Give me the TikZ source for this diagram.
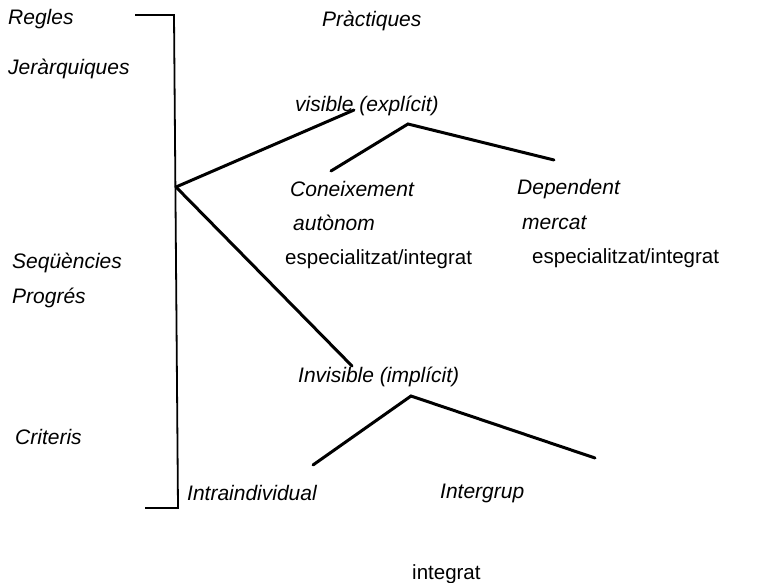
\documentclass[tikz,border=0pt]{standalone}
\usepackage{fontspec}
\setmainfont{Liberation Sans}
\begin{document}
\begin{tikzpicture}[x=1pt,y=-1pt,
  lbl/.style={anchor=west,inner sep=0pt,font=\fontsize{21}{24}\selectfont\itshape},
  plain/.style={anchor=west,inner sep=0pt,font=\fontsize{20.5}{24}\selectfont},
  branch/.style={line width=3pt,line cap=round},
  brace/.style={line width=1.8pt}]
\useasboundingbox (0,0) rectangle (773,583);

% left column of categories
\node[lbl] (regles) at (8,19) {Regles};
\node[lbl] (jer) at (8,69) {Jeràrquiques};
\node[lbl] (seq) at (12,263) {Seqüències};
\node[lbl] (prog) at (12,298) {Progrés};
\node[lbl] (crit) at (15,437) {Criteris};

% bracket
\coordinate (bt0) at (135,15);
\coordinate (bt1) at (174,15);
\coordinate (bb1) at (178,508);
\coordinate (bb0) at (145,508);
\draw[brace] (bt0) -- (bt1) -- (bb1) -- (bb0);

% headings and branch labels
\node[lbl] (prac) at (322,21) {Pràctiques};
\node[lbl] (vis) at (295,106) {visible (explícit)};
\node[lbl] (invis) at (298,377) {Invisible (implícit)};

\node[lbl] (con) at (290,189) {Coneixement};
\node[lbl] (aut) at (293,223) {autònom};
\node[plain] (esp1) at (285,259) {especialitzat/integrat};
\node[lbl] (dep) at (517,189) {Dependent};
\node[lbl] (merc) at (522,223) {mercat};
\node[plain] (esp2) at (532,258) {especialitzat/integrat};

\node[lbl] (intra) at (187,493) {Intraindividual};
\node[lbl] (inter) at (440,493) {Intergrup};
\node[plain] (integ) at (412,574) {integrat};

% tree branches
\coordinate (root) at (176,187);
\coordinate (vend) at (354,110);
\coordinate (iend) at (352,366);
\coordinate (vtop) at (408,124);
\coordinate (vleft) at (331,171);
\coordinate (vright) at (554,160);
\coordinate (itop) at (411,396);
\coordinate (ileft) at (313,465);
\coordinate (iright) at (595,458);

\draw[branch] (root) -- (vend);
\draw[branch] (root) -- (iend);
\draw[branch] (vleft) -- (vtop) -- (vright);
\draw[branch] (ileft) -- (itop) -- (iright);
\end{tikzpicture}
\end{document}
